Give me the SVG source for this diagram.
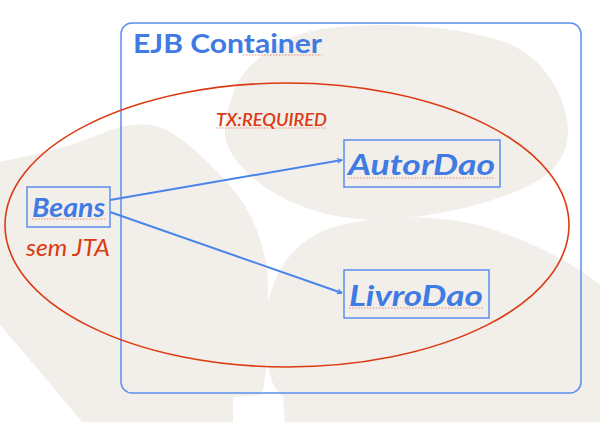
<svg xmlns="http://www.w3.org/2000/svg" width="600" height="422" viewBox="0 0 600 422">
<defs>
<style>
.blob{fill:#f2eeea;stroke:none}
.box{fill:none;stroke:#5b8fec;stroke-width:1.5}
.blue{fill:#3f7be3;font-family:Lato,"Open Sans","Liberation Sans",sans-serif}
.red{fill:#dc3a12;font-family:Lato,"Open Sans","Liberation Sans",sans-serif}
.conn{stroke:#4a84ea;stroke-width:2;fill:none}
.squig{stroke:#e8907a;stroke-width:1.2;stroke-dasharray:1.5 1.5;fill:none}
</style>
<marker id="arr" viewBox="0 0 10 10" refX="9" refY="5" markerWidth="6" markerHeight="6" orient="auto" markerUnits="userSpaceOnUse">
<path d="M1,1 L9,5 L1,9" fill="none" stroke="#4a84ea" stroke-width="1.8"/>
</marker>
</defs>
<rect width="600" height="422" fill="#ffffff"/>
<g id="background">
<path class="blob" d="M225,130 C228,100 238,75 255,62 C270,48 290,32 330,28 C380,22 450,24 505,42 C545,58 566,95 568,130 C568,150 560,170 530,185 C490,205 430,218 380,220 C330,220 290,205 262,185 C240,168 224,150 225,130 Z"/>
<path class="blob" d="M0,162 C30,155 70,148 105,132 C125,124 150,120 172,133 C195,148 220,172 240,198 C258,225 268,255 268,290 L268,335 C268,360 265,380 262,395 L233,397 L233,422 L82,422 C62,398 35,365 0,325 Z"/>
<path class="blob" d="M265,335 C265,285 285,245 330,228 C380,214 450,213 500,232 C540,245 580,268 600,285 L600,422 L285,422 L283,396 C272,390 265,365 265,335 Z"/>
</g>
<g id="container">
<rect x="121" y="23" width="460" height="370" rx="11" class="box" stroke-width="2"/>
<text x="133" y="53" class="blue" font-size="27" font-weight="bold" textLength="189" lengthAdjust="spacingAndGlyphs">EJB Container</text>
<line x1="243" y1="55" x2="322" y2="55" class="squig"/>
</g>
<g id="tx-scope">
<ellipse cx="287" cy="225" rx="282" ry="142" fill="none" stroke="#dc3a12" stroke-width="1.6"/>
<text x="216" y="126" class="red" font-size="17" font-style="italic" font-weight="600" textLength="111" lengthAdjust="spacingAndGlyphs">TX:REQUIRED</text>
<line x1="216" y1="128" x2="327" y2="128" class="squig"/>
</g>
<g id="connectors">
<line x1="110" y1="200" x2="342" y2="160" class="conn" marker-end="url(#arr)"/>
<line x1="110" y1="212" x2="342" y2="293" class="conn" marker-end="url(#arr)"/>
</g>
<g id="beans">
<rect x="27" y="187" width="83" height="40" class="box"/>
<text x="32" y="217" class="blue" font-size="27" font-weight="bold" font-style="italic" textLength="73" lengthAdjust="spacingAndGlyphs">Beans</text>
<line x1="32" y1="219" x2="105" y2="219" class="squig"/>
<text x="26" y="256" class="red" font-size="24" font-style="italic" textLength="84" lengthAdjust="spacingAndGlyphs">sem JTA</text>
</g>
<g id="autordao">
<rect x="344" y="140" width="156" height="47" class="box"/>
<text x="348" y="175" class="blue" font-size="29" font-weight="bold" font-style="italic" textLength="147" lengthAdjust="spacingAndGlyphs">AutorDao</text>
<line x1="348" y1="178" x2="495" y2="178" class="squig"/>
</g>
<g id="livrodao">
<rect x="344" y="270" width="145" height="48" class="box"/>
<text x="349" y="306" class="blue" font-size="29" font-weight="bold" font-style="italic" textLength="134" lengthAdjust="spacingAndGlyphs">LivroDao</text>
<line x1="349" y1="308" x2="483" y2="308" class="squig"/>
</g>
</svg>
